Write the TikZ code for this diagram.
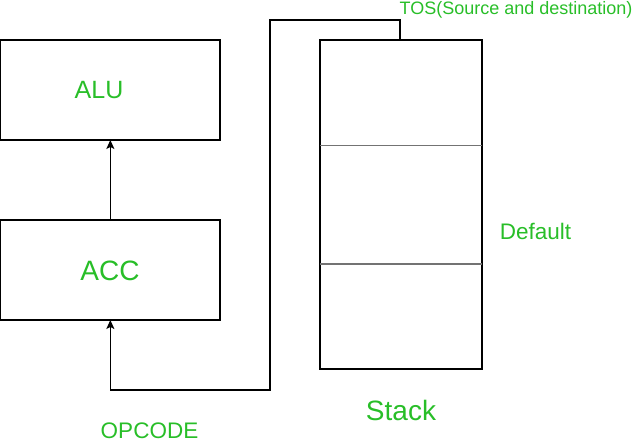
\documentclass[tikz,border=0pt]{standalone}
\usepackage{fontspec}
\setmainfont{Liberation Sans}
\usetikzlibrary{arrows.meta}
\definecolor{txtgreen}{RGB}{40,190,40}
\begin{document}
\begin{tikzpicture}[x=1pt,y=-1pt,
  box/.style={draw=black,line width=1.3pt,minimum width=#1,inner sep=0pt,outer sep=0pt},
  lbl/.style={text=txtgreen,inner sep=0pt,anchor=center},
  conn/.style={draw=black,line width=1.3pt},
  tip/.style={-{Stealth[length=9pt,width=8pt,inset=2pt]}}]
\useasboundingbox (0,0) rectangle (641,444);
% boxes
\node[box=219.3pt,minimum height=100pt] (alu) at (110.35,90) {};
\node[box=219.3pt,minimum height=100pt] (acc) at (110.35,270) {};
\node[box=162pt,minimum height=329pt] (stack) at (401,204.5) {};
% stack dividers
\draw[draw=gray!90!black,line width=1.1pt] (stack.west |- 0,145.5) -- (stack.east |- 0,145.5);
\draw[draw=gray!90!black,line width=1.1pt] (stack.west |- 0,264) -- (stack.east |- 0,264);
% texts
\node[lbl,font=\fontsize{25}{30}\selectfont] (alut) at (99,90) {ALU};
\node[lbl,font=\fontsize{28}{33}\selectfont] (acct) at (110,270.5) {ACC};
\node[lbl,font=\fontsize{18}{22}\selectfont] (tost) at (516,10) {TOS(Source and destination)};
\node[lbl,font=\fontsize{22.5}{27}\selectfont] (deft) at (535.5,231) {Default};
\node[lbl,font=\fontsize{28}{33}\selectfont] (stackt) at (401,410) {Stack};
\node[lbl,font=\fontsize{22.5}{27}\selectfont] (opt) at (149.5,431) {OPCODE};
% connectors
\draw[conn,tip] (acc.north) -- (alu.south);
\coordinate (tos) at (400,40);
\coordinate (c1) at (400,20);
\coordinate (c2) at (270,20);
\coordinate (c3) at (270,390);
\coordinate (c4) at (110.35,390);
\draw[conn,tip] (tos) -- (c1) -- (c2) -- (c3) -- (c4) -- (acc.south);
\end{tikzpicture}
\end{document}
